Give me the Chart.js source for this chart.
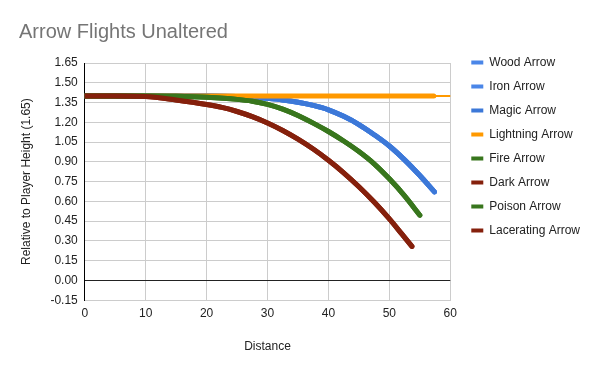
<!DOCTYPE html>
<html><head><meta charset="utf-8">
<script src="https://cdn.jsdelivr.net/npm/chart.js@4"></script>
<style>html,body{margin:0;padding:0;background:#fff}</style>
</head><body>
<canvas id="c" width="600" height="371"></canvas>
<script>
const seriesNames = ['Wood Arrow','Iron Arrow','Magic Arrow','Lightning Arrow','Fire Arrow','Dark Arrow','Poison Arrow','Lacerating Arrow'];
const seriesColors = ['#4a86e8','#4a86e8','#3c78d8','#ff9900','#38761d','#85200c','#38761d','#85200c'];

const blueDistance = [0,5,10,15,20,25,27.5,30,32.5,35,37.5,40,42.5,45,47.5,50,52.5,55,57.4];
const blueHeight   = [1.40,1.40,1.40,1.40,1.40,1.396,1.391,1.382,1.37,1.352,1.328,1.295,1.245,1.183,1.106,1.02,0.915,0.796,0.672];

const lightningDistance = [0,10,20,30,40,50,57.3,60];
const lightningHeight   = [1.40,1.40,1.40,1.40,1.40,1.40,1.40,1.40];

const greenDistance = [0,5,10,15,20,25,27.5,30,32.5,35,37.5,40,42.5,45,47.5,50,52.5,55];
const greenHeight   = [1.40,1.40,1.40,1.398,1.39,1.374,1.36,1.336,1.30,1.252,1.194,1.13,1.058,0.978,0.885,0.771,0.642,0.495];

const redDistance = [0,5,10,15,20,22.5,25,27.5,30,32.5,35,37.5,40,42.5,45,47.5,50,52,53.7];
const redHeight   = [1.40,1.40,1.396,1.369,1.335,1.313,1.282,1.243,1.195,1.138,1.072,0.997,0.912,0.817,0.711,0.595,0.467,0.355,0.258];

const xTicks = [0,10,20,30,40,50,60];
const yTicks = [-0.15,0,0.15,0.30,0.45,0.60,0.75,0.90,1.05,1.20,1.35,1.50,1.65];

const seriesX = [blueDistance,blueDistance,blueDistance,lightningDistance,greenDistance,redDistance,greenDistance,redDistance];
const seriesY = [blueHeight,blueHeight,blueHeight,lightningHeight,greenHeight,redHeight,greenHeight,redHeight];

const pts = (xs, ys) => xs.map((x, i) => ({x, y: ys[i]}));

const datasets = seriesNames.map((name, i) => ({
  label: name,
  data: pts(seriesX[i], seriesY[i]),
  borderColor: seriesColors[i],
  backgroundColor: seriesColors[i],
  borderWidth: 5,
  borderCapStyle: 'round',
  borderJoinStyle: 'round',
  pointRadius: 0,
  showLine: true,
  cubicInterpolationMode: 'monotone',
  order: seriesNames.length - i,
  segment: name === 'Lightning Arrow' ? {
    borderWidth: ctx => ctx.p0.parsed.x >= 57 ? 2 : 5
  } : undefined
}));

const FONT = 'Arial, "Liberation Sans", sans-serif';
Chart.defaults.font.family = FONT;
Chart.defaults.color = '#222';

const legendShift = {
  id: 'legendShift',
  afterLayout(chart) {
    if (chart.legend) { chart.legend.left += 9; chart.legend.right += 9; }
  }
};

new Chart(document.getElementById('c'), {
  type: 'scatter',
  data: { datasets },
  plugins: [legendShift],
  options: {
    responsive: false,
    animation: false,
    layout: { padding: { left: 19, right: 19, top: 0, bottom: 17 } },
    plugins: {
      title: {
        display: true, text: 'Arrow Flights Unaltered', align: 'start',
        color: '#757575', font: { size: 20, family: FONT, weight: 'normal' },
        padding: { top: 20, bottom: 19 }
      },
      legend: {
        position: 'right', align: 'start',
        title: { display: true, text: ' ', padding: { top: 30, bottom: 0 }, font: { size: 12 } },
        labels: {
          boxWidth: 12, boxHeight: 4, padding: 12,
          font: { size: 12, family: FONT }, color: '#222',
          sort: (a, b) => a.datasetIndex - b.datasetIndex,
          generateLabels: chart => {
            const items = Chart.defaults.plugins.legend.labels.generateLabels(chart);
            items.forEach(it => { it.lineWidth = 0; it.fillStyle = seriesColors[it.datasetIndex]; it.strokeStyle = seriesColors[it.datasetIndex]; });
            return items;
          }
        }
      },
      tooltip: { enabled: false }
    },
    scales: {
      x: {
        type: 'linear', min: 0, max: 60,
        afterBuildTicks: s => { s.ticks = xTicks.map(v => ({value: v})); },
        ticks: { font: { size: 12 }, color: '#222', padding: 6, maxRotation: 0 },
        grid: { color: c => (c.tick && c.tick.value === 0) ? '#000' : '#cccccc', drawTicks: false },
        border: { color: '#cccccc' },
        title: { display: true, text: 'Distance', font: { size: 12 }, color: '#222', padding: { top: 13, bottom: 0 } }
      },
      y: {
        type: 'linear', min: -0.15, max: 1.65,
        afterBuildTicks: s => { s.ticks = yTicks.map(v => ({value: v})); },
        ticks: { font: { size: 12 }, color: '#222', padding: 7, callback: v => Number(v).toFixed(2) },
        grid: { color: c => (c.tick && c.tick.value === 0) ? '#222' : '#cccccc', drawTicks: false },
        border: { color: '#000' },
        title: { display: true, text: 'Relative to Player Height (1.65)', font: { size: 12 }, color: '#222', padding: { top: 0, bottom: 10 } }
      }
    }
  }
});
</script>
</body></html>
